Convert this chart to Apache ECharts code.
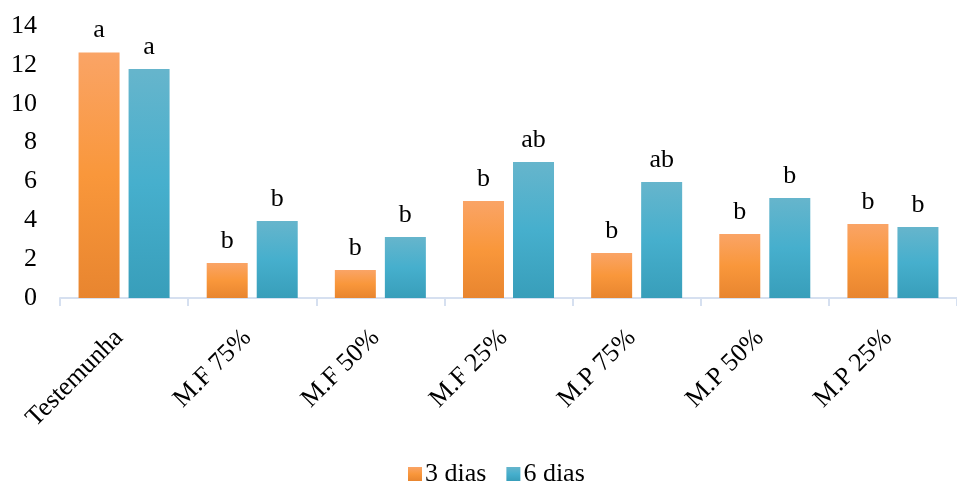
<!DOCTYPE html>
<html>
<head>
<meta charset="utf-8">
<script src="https://cdn.jsdelivr.net/npm/echarts@6/dist/echarts.min.js"></script>
<style>
  html, body { margin: 0; padding: 0; background: #fff; }
  #chart { width: 957px; height: 484px; }
</style>
</head>
<body>
<div id="chart"></div>
<script>
// Treatments on the x axis
const categories = ['Testemunha', 'M.F 75%', 'M.F 50%', 'M.F 25%', 'M.P 75%', 'M.P 50%', 'M.P 25%'];

// Mean values after 3 and 6 days
const dias3 = [12.64, 1.80, 1.44, 4.99, 2.32, 3.29, 3.81];
const dias6 = [11.79, 3.96, 3.14, 7.00, 5.97, 5.15, 3.65];

// Significance letters shown above each bar
const letras3 = ['a', 'b', 'b', 'b', 'b', 'b', 'b'];
const letras6 = ['a', 'b', 'b', 'ab', 'ab', 'b', 'b'];

// Y axis ticks
const yTicks = [0, 2, 4, 6, 8, 10, 12, 14];

const FONT = '"Liberation Serif", "Times New Roman", serif';
const FS = 26;

function grad(c0, c1, c2) {
  return new echarts.graphic.LinearGradient(0, 0, 0, 1, [
    { offset: 0, color: c0 },
    { offset: 0.5, color: c1 },
    { offset: 1, color: c2 }
  ]);
}

const chart = echarts.init(document.getElementById('chart'), null, { renderer: 'canvas' });

const labelStyle = {
  show: true,
  position: 'top',
  distance: 9,
  fontFamily: FONT,
  fontSize: FS,
  color: '#000'
};

chart.setOption({
  animation: false,
  grid: { left: 60, top: 26, width: 909, bottom: 186, containLabel: false },
  legend: {
    data: ['3 dias', '6 dias'],
    left: 408,
    top: 461,
    itemWidth: 14,
    itemHeight: 14,
    itemGap: 20,
    icon: 'rect',
    textStyle: { fontFamily: FONT, fontSize: FS, color: '#000', padding: [0, 0, 0, -2] },
    padding: 0
  },
  xAxis: {
    type: 'category',
    data: categories,
    axisLine: { show: true, lineStyle: { color: '#D6E0F0', width: 2 } },
    axisTick: { show: true, length: 8, alignWithLabel: false, lineStyle: { color: '#D6E0F0', width: 2 } },
    axisLabel: {
      rotate: 45,
      margin: 31,
      padding: [0, 7, 0, 0],
      interval: 0,
      fontFamily: FONT,
      fontSize: FS,
      color: '#000'
    }
  },
  yAxis: {
    type: 'value',
    min: yTicks[0],
    max: yTicks[yTicks.length - 1],
    interval: 2,
    axisLine: { show: false },
    axisTick: { show: false },
    splitLine: { show: false },
    axisLabel: { margin: 23, fontFamily: FONT, fontSize: FS, color: '#000' }
  },
  series: [
    {
      name: '3 dias',
      type: 'bar',
      data: dias3,
      barWidth: 41,
      barGap: '22%',
      itemStyle: { color: grad('#FAA466', '#F9973B', '#E8852F') },
      label: Object.assign({}, labelStyle, { formatter: p => letras3[p.dataIndex] })
    },
    {
      name: '6 dias',
      type: 'bar',
      data: dias6,
      barWidth: 41,
      barGap: '22%',
      itemStyle: { color: grad('#66B5CC', '#46AFCD', '#389EBA') },
      label: Object.assign({}, labelStyle, { formatter: p => letras6[p.dataIndex] })
    }
  ]
});
</script>
</body>
</html>
